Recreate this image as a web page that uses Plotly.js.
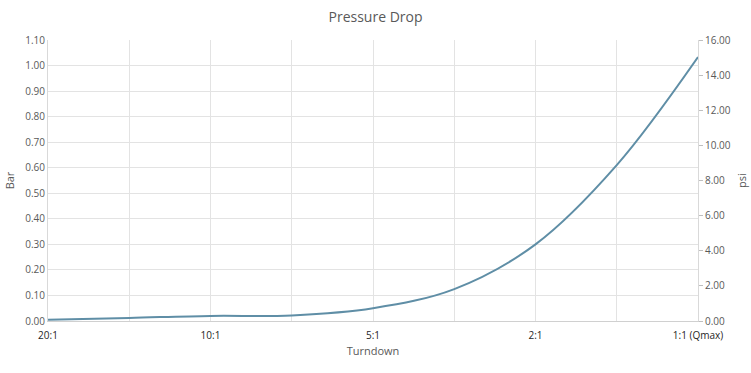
<!DOCTYPE html>
<html><head><meta charset="utf-8">
<script src="https://cdn.plot.ly/plotly-3.0.1.min.js"></script>
<style>html,body{margin:0;padding:0;background:#fff}#chart{width:751px;height:373px}</style>
</head><body><div id="chart"></div>
<script>
const turndown = ["20:1","","10:1","","5:1","","2:1","","1:1 (Qmax)"];
const positions = [0,1,2,3,4,5,6,7,8];
const pressureBar = [0.005,0.012,0.020,0.022,0.050,0.125,0.300,0.610,1.033];
const barTicks = [0,0.1,0.2,0.3,0.4,0.5,0.6,0.7,0.8,0.9,1.0,1.1];
const psiTicks = [0,2,4,6,8,10,12,14,16];

const font = "Open Sans, Lato, sans-serif";
const trace = {
  x: positions, y: pressureBar, type: "scatter", mode: "lines",
  line: {color: "#5f8ea6", width: 2, shape: "spline", smoothing: 1},
  hoverinfo: "skip", showlegend: false
};
const ghost = {
  x: positions, y: pressureBar.map(v => v * 16 / 1.1), yaxis: "y2",
  type: "scatter", mode: "lines", line: {width: 0}, opacity: 0,
  hoverinfo: "skip", showlegend: false
};
const layout = {
  width: 751, height: 373,
  margin: {l: 48, r: 53, t: 40, b: 52},
  paper_bgcolor: "#fff", plot_bgcolor: "#fff",
  font: {family: font, color: "#595959", size: 10},
  title: {text: "Pressure Drop", font: {size: 14, color: "#595959", family: font}, x: 0.5, xanchor: "center", y: 0.955, yanchor: "middle"},
  xaxis: {
    range: [0, 8], tickvals: positions, ticktext: turndown,
    showgrid: true, gridcolor: "#e3e3e3", gridwidth: 1,
    showline: true, linecolor: "#d0d0d0", linewidth: 1,
    ticks: "", ticklabelstandoff: 5, tickfont: {size: 10, color: "#262626"},
    zeroline: false,
    title: {text: "Turndown", font: {size: 11, color: "#595959"}, standoff: 6}
  },
  yaxis: {
    range: [0, 1.1], tickvals: barTicks, tickformat: ".2f",
    showgrid: true, gridcolor: "#e3e3e3", gridwidth: 1,
    showline: true, linecolor: "#d9d9d9", ticks: "", zeroline: false,
    tickfont: {size: 10, color: "#595959"},
    title: {text: "Bar", font: {size: 11, color: "#595959"}, standoff: 8}
  },
  yaxis2: {
    overlaying: "y", side: "right", range: [0, 16],
    tickvals: psiTicks, tickformat: ".2f",
    showgrid: false, showline: true, linecolor: "#d9d9d9",
    ticks: "outside", ticklen: 4, tickcolor: "#bfbfbf", zeroline: false,
    tickfont: {size: 10, color: "#595959"},
    title: {text: "psi", font: {size: 11, color: "#595959"}, standoff: 8}
  }
};
Plotly.newPlot("chart", [ghost, trace], layout, {displayModeBar: false, staticPlot: true});
</script></body></html>
